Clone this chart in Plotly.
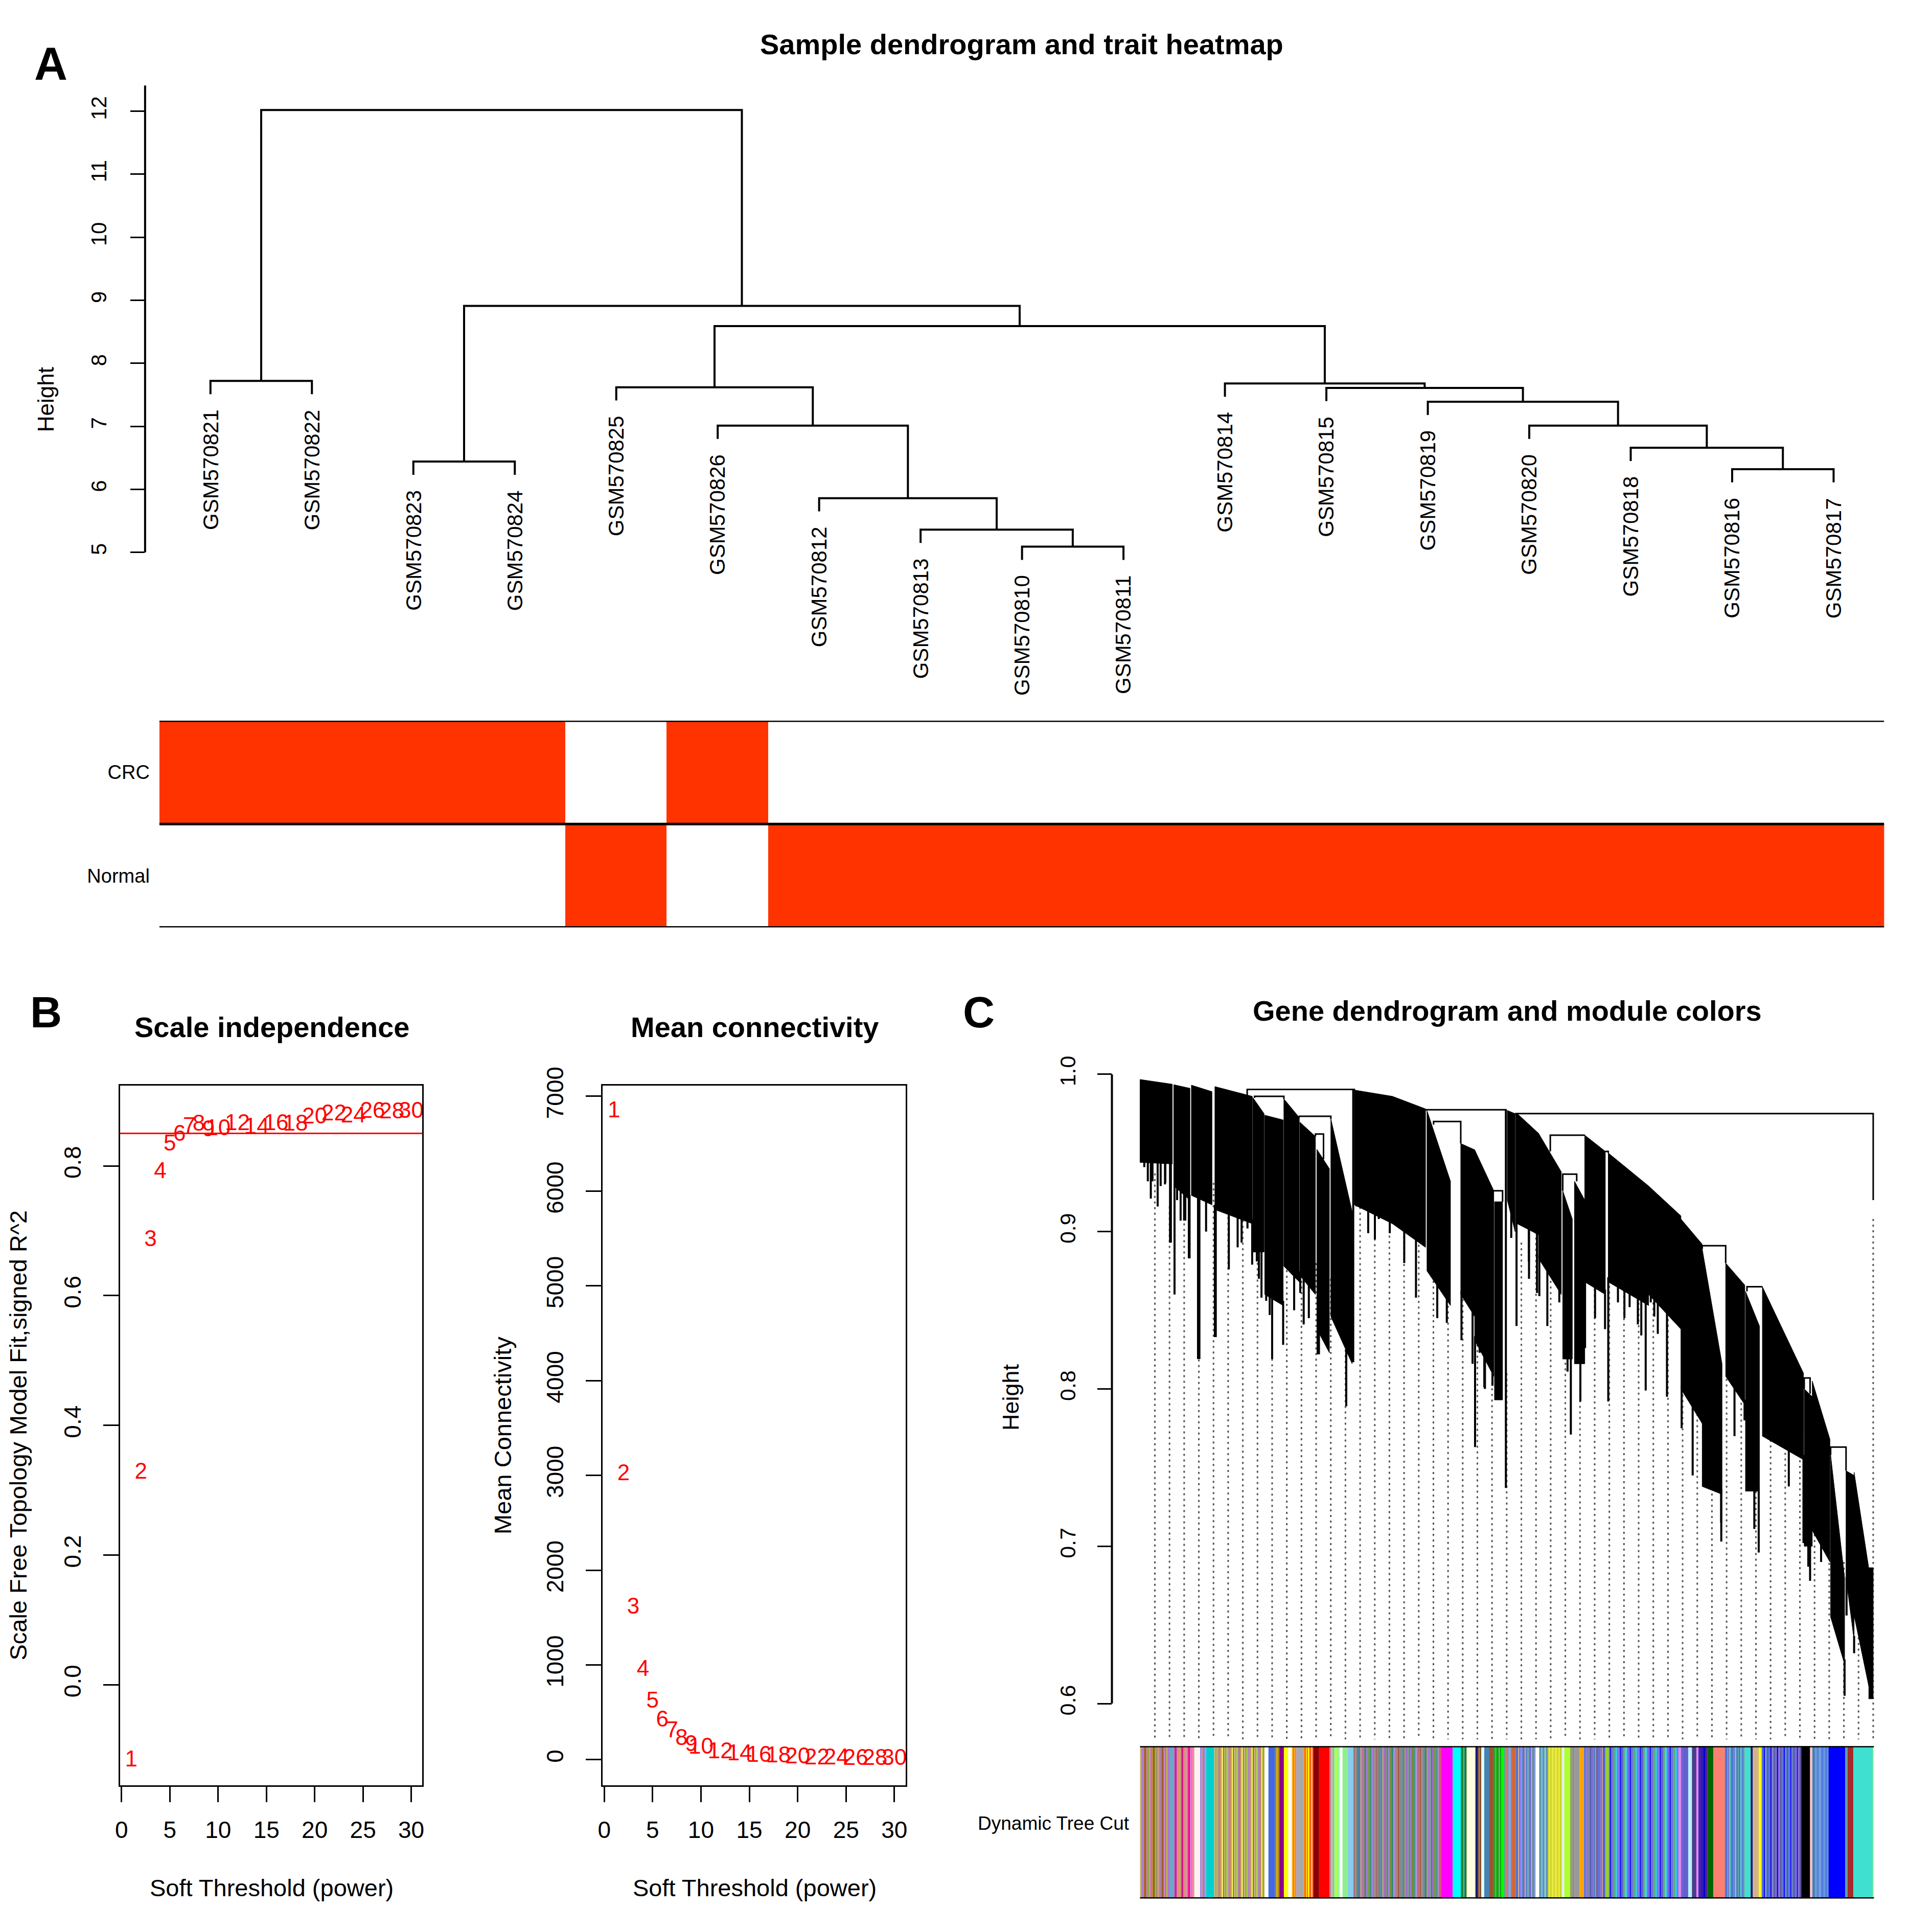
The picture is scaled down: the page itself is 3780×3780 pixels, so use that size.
import plotly.graph_objects as go

W = H = 3780
FONT = "Liberation Sans"

## PANEL A DATA - sample tree and trait rows
sample_order = ["GSM570821", "GSM570822", "GSM570823", "GSM570824", "GSM570825",
                "GSM570826", "GSM570812", "GSM570813", "GSM570810", "GSM570811",
                "GSM570814", "GSM570815", "GSM570819", "GSM570820", "GSM570818",
                "GSM570816", "GSM570817"]
# (left, right, height), "m<i>" = earlier merge i
sample_merges = [
    ("GSM570810", "GSM570811", 5.09),   # m0
    ("GSM570813", "m0", 5.36),          # m1
    ("GSM570812", "m1", 5.86),          # m2
    ("GSM570826", "m2", 7.01),          # m3
    ("GSM570825", "m3", 7.62),          # m4
    ("GSM570816", "GSM570817", 6.32),   # m5
    ("GSM570818", "m5", 6.66),          # m6
    ("GSM570820", "m6", 7.01),          # m7
    ("GSM570819", "m7", 7.39),          # m8
    ("GSM570815", "m8", 7.61),          # m9
    ("GSM570814", "m9", 7.68),          # m10
    ("m4", "m10", 8.59),                # m11
    ("GSM570823", "GSM570824", 6.44),   # m12
    ("m12", "m11", 8.91),               # m13
    ("GSM570821", "GSM570822", 7.72),   # m14
    ("m14", "m13", 12.02),              # m15
]
leaf_hang = 0.21
trait_names = ["Normal", "CRC"]
trait_crc = [1, 1, 1, 1, 0, 1, 0, 0, 0, 0, 0, 0, 0, 0, 0, 0, 0]
trait_normal = [0, 0, 0, 0, 1, 0, 1, 1, 1, 1, 1, 1, 1, 1, 1, 1, 1]

## PANEL B DATA - soft threshold
powers = [1, 2, 3, 4, 5, 6, 7, 8, 9, 10, 12, 14, 16, 18, 20, 22, 24, 26, 28, 30]
sft_r2 = [-0.117, 0.326, 0.685, 0.790, 0.832, 0.847, 0.859, 0.863, 0.854, 0.856,
          0.864, 0.858, 0.864, 0.863, 0.874, 0.879, 0.8755, 0.883, 0.882, 0.883]
mean_k = [6837, 3011, 1599, 945, 606, 411, 295, 215, 150, 125,
          75, 54, 39, 30, 21, 12, 9, 7, 5, 4]
r2_cut = 0.85

## PANEL C DATA - gene tree (x = fraction of leaf order)
gc_left  = [0.000, 0.046, 0.070, 0.102, 0.154, 0.170, 0.196, 0.218, 0.241, 0.260,
            0.292, 0.344, 0.391, 0.437, 0.456, 0.483, 0.5005, 0.514, 0.543, 0.576,
            0.592, 0.606, 0.638, 0.693, 0.737, 0.766, 0.798, 0.825, 0.848, 0.905,
            0.916, 0.941, 0.962, 0.973, 0.993]
gc_right = [0.044, 0.068, 0.098, 0.153, 0.169, 0.195, 0.217, 0.239, 0.258, 0.289,
            0.344, 0.389, 0.423, 0.456, 0.482, 0.494, 0.511, 0.543, 0.574, 0.589,
            0.606, 0.634, 0.693, 0.737, 0.766, 0.793, 0.824, 0.844, 0.904, 0.916,
            0.940, 0.960, 0.973, 0.993, 0.999]
gc_top_l = [0.9967, 0.9934, 0.9931, 0.9922, 0.985, 0.974, 0.9844, 0.9695, 0.9523, 0.9717,
            0.990, 0.986, 0.977, 0.956, 0.952, 0.919, 0.977, 0.975, 0.9625, 0.926,
            0.932, 0.9613, 0.950, 0.929, 0.908, 0.889, 0.880, 0.862, 0.865, 0.800,
            0.805, 0.758, 0.748, 0.747, 0.686]
gc_top_r = [0.9937, 0.9911, 0.989, 0.986, 0.975, 0.971, 0.9725, 0.9605, 0.940, 0.9128,
            0.986, 0.978, 0.932, 0.952, 0.926, 0.919, 0.975, 0.9625, 0.938, 0.908,
            0.920, 0.951, 0.929, 0.910, 0.892, 0.816, 0.866, 0.840, 0.810, 0.795,
            0.768, 0.680, 0.745, 0.686, 0.686]
gc_bot_l = [0.944, 0.929, 0.923, 0.914, 0.887, 0.860, 0.878, 0.872, 0.838, 0.846,
            0.917, 0.905, 0.875, 0.860, 0.831, 0.793, 0.920, 0.905, 0.883, 0.819,
            0.816, 0.868, 0.868, 0.860, 0.800, 0.738, 0.808, 0.735, 0.770, 0.700,
            0.710, 0.655, 0.680, 0.656, 0.603]
gc_bot_r = [0.943, 0.920, 0.917, 0.905, 0.887, 0.853, 0.868, 0.860, 0.823, 0.816,
            0.905, 0.890, 0.853, 0.846, 0.808, 0.793, 0.900, 0.898, 0.860, 0.819,
            0.816, 0.860, 0.853, 0.838, 0.778, 0.733, 0.790, 0.735, 0.755, 0.700,
            0.690, 0.625, 0.640, 0.611, 0.603]

# merge brackets: left x, right x, height, left child height, right child height
gb_left  = [0.146, 0.156, 0.217, 0.239, 0.389, 0.400, 0.480, 0.511, 0.559, 0.576,
            0.634, 0.766, 0.827, 0.905, 0.941, 0.993]
gb_right = [0.292, 0.196, 0.260, 0.250, 0.4985, 0.437, 0.494, 0.999, 0.606, 0.595,
            0.638, 0.798, 0.848, 0.913, 0.962, 0.999]
gb_h     = [0.9904, 0.986, 0.9733, 0.962, 0.9775, 0.970, 0.926, 0.975, 0.9613, 0.9365,
            0.951, 0.891, 0.865, 0.807, 0.763, 0.686]
gb_hl    = [0.987, 0.985, 0.9725, 0.9605, 0.978, 0.968, 0.926, 0.975, 0.951, 0.926,
            0.951, 0.889, 0.862, 0.800, 0.758, 0.686]
gb_hr    = [0.990, 0.9844, 0.9717, 0.946, 0.977, 0.956, 0.919, 0.920, 0.9613, 0.932,
            0.950, 0.880, 0.865, 0.797, 0.748, 0.686]

# single branches hanging below the dense part: position and lowest height
gs_x = [0.0058, 0.0106, 0.0147, 0.0170, 0.024, 0.0281, 0.034, 0.0345, 0.0409, 0.042,
        0.047, 0.0505, 0.0553, 0.060, 0.0617, 0.0665, 0.0675, 0.0729, 0.079, 0.0809,
        0.0857, 0.090, 0.0920, 0.102, 0.1032, 0.121, 0.133, 0.1384, 0.1464, 0.1528,
        0.1591, 0.162, 0.1655, 0.1719, 0.1767, 0.180, 0.195, 0.2023, 0.210, 0.2135,
        0.2183, 0.2230, 0.230, 0.242, 0.2438, 0.2758, 0.281, 0.2905, 0.2949, 0.3109,
        0.320, 0.3253, 0.3403, 0.360, 0.376, 0.405, 0.418, 0.438, 0.4531, 0.4565,
        0.4627, 0.4691, 0.470, 0.4802, 0.4985, 0.5026, 0.5058, 0.513, 0.5298, 0.530,
        0.5409, 0.5441, 0.555, 0.5713, 0.5825, 0.587, 0.600, 0.6064, 0.620, 0.6336,
        0.638, 0.6512, 0.660, 0.6671, 0.6783, 0.683, 0.689, 0.6959, 0.7007, 0.7055,
        0.718, 0.738, 0.753, 0.7918, 0.792, 0.810, 0.8237, 0.837, 0.843, 0.884,
        0.8892, 0.904, 0.9106, 0.913, 0.928, 0.960, 0.9627, 0.973]
gs_low = [0.941, 0.932, 0.921, 0.932, 0.916, 0.929, 0.930, 0.931, 0.893, 0.893,
          0.860, 0.920, 0.907, 0.907, 0.907, 0.883, 0.883, 0.931, 0.819, 0.819,
          0.920, 0.900, 0.925, 0.833, 0.833, 0.876, 0.890, 0.893, 0.902, 0.879,
          0.881, 0.870, 0.858, 0.856, 0.847, 0.819, 0.828, 0.877, 0.850, 0.870,
          0.861, 0.841, 0.845, 0.822, 0.822, 0.832, 0.789, 0.817, 0.916, 0.899,
          0.895, 0.908, 0.899, 0.880, 0.858, 0.845, 0.842, 0.831, 0.816, 0.763,
          0.823, 0.801, 0.800, 0.802, 0.737, 0.922, 0.896, 0.840, 0.881, 0.870,
          0.861, 0.859, 0.840, 0.855, 0.811, 0.771, 0.792, 0.826, 0.845, 0.838,
          0.792, 0.855, 0.845, 0.852, 0.841, 0.834, 0.799, 0.855, 0.846, 0.835,
          0.795, 0.775, 0.745, 0.715, 0.703, 0.770, 0.780, 0.711, 0.696, 0.738,
          0.762, 0.702, 0.687, 0.678, 0.690, 0.605, 0.656, 0.632]

# dotted guide lines (50 of them), top height of each
guide_top = [0.937, 0.916, 0.941, 0.951, 0.931, 0.920, 0.943, 0.941, 0.930, 0.947,
             0.908, 0.880, 0.870, 0.850, 0.955, 0.917, 0.901, 0.908, 0.931, 0.908,
             0.860, 0.907, 0.864, 0.804, 0.810, 0.893, 0.932, 0.908, 0.881, 0.800,
             0.935, 0.912, 0.920, 0.912, 0.905, 0.898, 0.800, 0.877, 0.780, 0.860,
             0.852, 0.760, 0.832, 0.813, 0.794, 0.754, 0.718, 0.690, 0.710, 0.908]
guide_first, guide_last, guide_floor = 0.0202, 0.999, 0.577

# module colour bands along the leaf order (list = fine mix of genes)
band_from = [0.000, 0.040, 0.047, 0.074, 0.082, 0.090, 0.101, 0.170, 0.175, 0.184,
             0.190, 0.196, 0.202, 0.207, 0.213, 0.223, 0.236, 0.244, 0.258, 0.264,
             0.272, 0.276, 0.283, 0.291, 0.410, 0.426, 0.437, 0.445, 0.457, 0.460,
             0.465, 0.469, 0.476, 0.481, 0.492, 0.497, 0.501, 0.506, 0.512, 0.539,
             0.544, 0.556, 0.575, 0.578, 0.587, 0.591, 0.599, 0.605, 0.634, 0.639,
             0.734, 0.737, 0.747, 0.752, 0.758, 0.761, 0.773, 0.781, 0.797, 0.824,
             0.832, 0.835, 0.843, 0.847, 0.901, 0.913, 0.916, 0.938, 0.961, 0.964,
             0.972, 0.999]
band_to = band_from[1:] + [1.000]
band_colors = [
    ["#B5A642", "#D87093", "#9370DB", "#CD853F", "#A0522D", "#808000", "#DA70D6", "#6B8E23"],
    "#6CA6CD",
    ["#FF1493", "#C71585", "#DA70D6", "#CD853F", "#FF69B4", "#B0A060"],
    "#FFF0F5",
    ["#9370DB", "#A0A0A0", "#D87093"],
    "#00CED1",
    ["#BDB76B", "#D87093", "#9ACD32", "#DAA520", "#9370DB", "#CD853F", "#BC8F8F", "#FFFF66", "#808000"],
    "#FFFFFF",
    "#4169E1",
    ["#808000", "#DAA520", "#FF8C00"],
    "#8B008B",
    "#FFFF00",
    "#FFFFF0",
    ["#FFA500", "#D87093"],
    "#A9A9A9",
    ["#FF8C00", "#FF4500", "#FFD700", "#FF6347", "#FFFF00"],
    "#8B0000",
    "#FF0000",
    ["#D87093", "#A0A0A0", "#90EE90"],
    ["#90EE90", "#98FB98", "#ADFF2F"],
    "#F0FFF0",
    "#90EE90",
    "#87CEEB",
    ["#A0522D", "#9370DB", "#808080", "#6B8E23", "#4682B4", "#2E8B57", "#BC8F8F", "#8470FF", "#CD5C5C", "#5F9EA0"],
    "#FF00FF",
    "#00FFFF",
    ["#2E8B57", "#006400", "#20B2AA"],
    "#FFFFE0",
    "#191970",
    ["#8B4513", "#4682B4"],
    "#E0FFFF",
    "#4682B4",
    "#A0522D",
    ["#00A000", "#228B22", "#32CD32"],
    "#00FF00",
    ["#9370DB", "#FF8C00"],
    ["#6495ED", "#FF8C00"],
    "#CD6839",
    ["#4169E1", "#6A5ACD", "#D2B48C", "#4682B4", "#8470FF", "#5F9EA0"],
    "#FFFFFF",
    ["#4682B4", "#5F9EA0", "#87CEEB"],
    ["#DDDD22", "#F0F030", "#C8D020"],
    "#E0F0FF",
    "#ADFF2F",
    ["#8B8378", "#A9A9A9"],
    "#999999",
    "#FFA500",
    ["#4169E1", "#6A5ACD", "#9370DB", "#4682B4", "#BC8F8F", "#483D8B"],
    "#9ACD32",
    ["#4169E1", "#0000FF", "#4682B4", "#6A5ACD", "#5F9EA0", "#3CB371", "#40E0D0", "#1E90FF", "#7B68EE"],
    "#EE82EE",
    ["#4169E1", "#6A5ACD"],
    "#BFEFFF",
    "#483D8B",
    "#EE82EE",
    ["#1010C0", "#4B0082", "#0000CD"],
    "#006400",
    "#FA8072",
    ["#4682B4", "#4169E1", "#5F9EA0", "#6A5ACD", "#40E0D0"],
    "#40E0D0",
    "#191970",
    "#D2B48C",
    "#FFFF00",
    ["#4169E1", "#6A5ACD", "#0000FF", "#9370DB", "#4682B4", "#483D8B"],
    "#000000",
    "#FFC0CB",
    ["#4682B4", "#4169E1", "#5F9EA0", "#6495ED"],
    "#0000FF",
    "#5F9EA0",
    "#A52A2A",
    "#40E0D0",
    "#FFFF00",
]


# page pixel -> paper coords (small affine nudge found by comparing with the target)
def px_x(p):
    return (p - 16 + 0.003 * p) / W


def px_y(p):
    return 1 - (p - 46 + 0.011 * p) / H


## BUILD SAMPLE DENDROGRAM SEGMENTS
pos = {n: i + 1 for i, n in enumerate(sample_order)}
hgt = {}
leaf_end = {}
tree_x, tree_y = [], []
for i, (a, b, h) in enumerate(sample_merges):
    for c in (a, b):
        if c not in hgt:
            leaf_end[c] = h - leaf_hang
    ya = hgt.get(a, h - leaf_hang)
    yb = hgt.get(b, h - leaf_hang)
    tree_x += [pos[a], pos[a], pos[b], pos[b], None]
    tree_y += [ya, h, h, yb, None]
    pos["m%d" % i] = (pos[a] + pos[b]) / 2
    hgt["m%d" % i] = h

## BUILD GENE TREE PIECES
poly_x, poly_y = [], []
for i in range(len(gc_left)):
    poly_x += [gc_left[i], gc_right[i], gc_right[i], gc_left[i], gc_left[i], None]
    poly_y += [gc_top_l[i], gc_top_r[i], gc_bot_r[i], gc_bot_l[i], gc_top_l[i], None]

br_x, br_y = [], []
for i in range(len(gb_left)):
    br_x += [gb_left[i], gb_left[i], gb_right[i], gb_right[i], None]
    br_y += [gb_hl[i], gb_h[i], gb_h[i], gb_hr[i], None]


def branch_start(x):
    # a hanging branch starts at the bottom of the block it sits in,
    # or at the nearest bracket above it when it sits between blocks
    for i in range(len(gc_left)):
        if gc_left[i] <= x <= gc_right[i]:
            t = (x - gc_left[i]) / (gc_right[i] - gc_left[i])
            return gc_bot_l[i] + t * (gc_bot_r[i] - gc_bot_l[i]) + 0.003
    tops = [gb_h[i] for i in range(len(gb_left)) if gb_left[i] <= x <= gb_right[i]]
    return min(tops) if tops else None


sp_x, sp_y = [], []
for x, low in zip(gs_x, gs_low):
    top = branch_start(x)
    if top is not None and low < top:
        sp_x += [x, x, None]
        sp_y += [top, low, None]

n_guides = len(guide_top)
step = (guide_last - guide_first) / (n_guides - 1)
gd_x, gd_y = [], []
for k in range(n_guides):
    gx = guide_first + k * step
    gd_x += [gx, gx, None]
    gd_y += [guide_top[k], guide_floor, None]

## BUILD COLOUR STRIPES
st_x, st_w, st_c = [], [], []
for a, b, c in zip(band_from, band_to, band_colors):
    if isinstance(c, str):
        st_x.append((a + b) / 2)
        st_w.append(b - a)
        st_c.append(c)
    else:
        n = max(1, round((b - a) / 0.0015))
        w = (b - a) / n
        for j in range(n):
            st_x.append(a + w * (j + 0.5))
            st_w.append(w)
            st_c.append(c[j % len(c)])

## FIGURE
fig = go.Figure()
black = dict(color="black", width=4)

fig.add_trace(go.Scatter(x=tree_x, y=tree_y, mode="lines", line=black,
                         xaxis="x", yaxis="y", hoverinfo="skip"))
fig.add_trace(go.Heatmap(z=[trait_normal, trait_crc], x=list(range(1, 18)), y=[0, 1],
                         colorscale=[[0, "white"], [1, "#FF3300"]], zmin=0, zmax=1,
                         showscale=False, xaxis="x2", yaxis="y2", hoverinfo="skip"))
fig.add_trace(go.Scatter(x=powers, y=sft_r2, mode="text", text=[str(p) for p in powers],
                         textfont=dict(color="red", size=44, family=FONT),
                         xaxis="x3", yaxis="y3", cliponaxis=False, hoverinfo="skip"))
fig.add_trace(go.Scatter(x=powers, y=mean_k, mode="text", text=[str(p) for p in powers],
                         textfont=dict(color="red", size=44, family=FONT),
                         xaxis="x4", yaxis="y4", cliponaxis=False, hoverinfo="skip"))
fig.add_trace(go.Scatter(x=gd_x, y=gd_y, mode="lines",
                         line=dict(color="#555555", width=3, dash="4px,7px"),
                         xaxis="x5", yaxis="y5", hoverinfo="skip"))
fig.add_trace(go.Scatter(x=poly_x, y=poly_y, mode="lines", fill="toself", fillcolor="black",
                         line=dict(color="black", width=1), xaxis="x5", yaxis="y5",
                         hoverinfo="skip"))
fig.add_trace(go.Scatter(x=br_x, y=br_y, mode="lines", line=dict(color="black", width=3),
                         xaxis="x5", yaxis="y5", hoverinfo="skip"))
fig.add_trace(go.Scatter(x=sp_x, y=sp_y, mode="lines", line=dict(color="black", width=4),
                         xaxis="x5", yaxis="y5", hoverinfo="skip"))
fig.add_trace(go.Bar(x=st_x, y=[1] * len(st_x), width=st_w,
                     marker=dict(color=st_c, line=dict(width=0)),
                     xaxis="x6", yaxis="y6", hoverinfo="skip"))

tick_common = dict(ticks="outside", tickwidth=3, tickcolor="black", showgrid=False,
                   zeroline=False)
box = dict(showline=True, linewidth=3, linecolor="black", mirror=True)

fig.update_layout(
    width=W, height=H, margin=dict(l=0, r=0, t=0, b=0),
    paper_bgcolor="white", plot_bgcolor="white", showlegend=False,
    font=dict(family=FONT, color="black"),
    # A: sample dendrogram
    xaxis=dict(domain=[px_x(282), px_x(3687)], range=[0.3555, 17.4985], visible=False,
               anchor="y"),
    yaxis=dict(domain=[px_y(1180), px_y(150)], range=[4.188, 12.552], anchor="x",
               tickvals=list(range(5, 13)), ticklen=28, tickangle=-90,
               tickfont=dict(size=42), ticklabelstandoff=30, showline=False, **tick_common),
    # A: trait rows
    xaxis2=dict(domain=[px_x(310), px_x(3687)], range=[0.5, 17.5], visible=False,
                anchor="y2"),
    yaxis2=dict(domain=[px_y(1813), px_y(1409)], range=[-0.5, 1.5], anchor="x2",
                tickvals=[0, 1], ticktext=trait_names, ticks="", showgrid=False,
                zeroline=False, showline=False, tickfont=dict(size=38),
                ticklabelstandoff=18),
    # B: scale independence
    xaxis3=dict(domain=[px_x(233), px_x(825)], range=[-0.16, 31.16], anchor="y3",
                tickvals=[0, 5, 10, 15, 20, 25, 30], ticklen=30, tickfont=dict(size=46),
                ticklabelstandoff=14, **tick_common, **box),
    yaxis3=dict(domain=[px_y(3490), px_y(2122)], range=[-0.1554, 0.9239], anchor="x3",
                tickvals=[0, 0.2, 0.4, 0.6, 0.8], ticktext=["0.0", "0.2", "0.4", "0.6", "0.8"],
                ticklen=30, tickangle=-90, tickfont=dict(size=46), ticklabelstandoff=26,
                **tick_common, **box),
    # B: mean connectivity
    xaxis4=dict(domain=[px_x(1178), px_x(1771)], range=[-0.16, 31.16], anchor="y4",
                tickvals=[0, 5, 10, 15, 20, 25, 30], ticklen=30, tickfont=dict(size=46),
                ticklabelstandoff=14, **tick_common, **box),
    yaxis4=dict(domain=[px_y(3490), px_y(2122)], range=[-272, 7114], anchor="x4",
                tickvals=[0, 1000, 2000, 3000, 4000, 5000, 6000, 7000],
                ticklen=30, tickangle=-90, tickfont=dict(size=46), ticklabelstandoff=26,
                **tick_common, **box),
    # C: gene dendrogram
    xaxis5=dict(domain=[px_x(2175), px_x(3700)], range=[-0.0383, 1.023], visible=False,
                anchor="y5"),
    yaxis5=dict(domain=[px_y(3400), px_y(2050)], range=[0.5772, 1.0163], anchor="x5",
                tickvals=[0.6, 0.7, 0.8, 0.9, 1.0], ticktext=["0.6", "0.7", "0.8", "0.9", "1.0"],
                ticklen=28, tickangle=-90, tickfont=dict(size=43), ticklabelstandoff=25,
                showline=False, **tick_common),
    # C: module colours
    xaxis6=dict(domain=[px_x(2230), px_x(3667)], range=[0, 1], visible=False, anchor="y6"),
    yaxis6=dict(domain=[px_y(3711), px_y(3413)], range=[0, 1], visible=False, anchor="x6"),
)

## SHAPES (axis lines R style, row borders, cut line)
shapes = [
    dict(type="line", xref="x domain", yref="y", x0=0, x1=0, y0=5, y1=12.41, line=black),
    dict(type="line", xref="x3 domain", yref="y3", x0=0, x1=1, y0=r2_cut, y1=r2_cut,
         line=dict(color="red", width=3)),
    dict(type="line", xref="x5 domain", yref="y5", x0=0, x1=0, y0=0.6, y1=1.0, line=black),
    dict(type="line", xref="x6 domain", yref="y6", x0=0, x1=1, y0=1, y1=1,
         line=dict(color="black", width=5)),
    dict(type="line", xref="x6 domain", yref="y6", x0=0, x1=1, y0=0, y1=0,
         line=dict(color="black", width=5)),
]
for yv in (1.5, 0.5, -0.5):
    shapes.append(dict(type="line", xref="x2", yref="y2", x0=0.5, x1=17.5, y0=yv, y1=yv,
                       line=dict(color="black", width=5)))
fig.update_layout(shapes=shapes)

## TEXT
ann = []


def txt(s, x, y, size, bold=False, angle=0, xanchor="center"):
    ann.append(dict(text="<b>%s</b>" % s if bold else s, x=px_x(x), y=px_y(y),
                    xref="paper", yref="paper", showarrow=False, textangle=angle,
                    xanchor=xanchor, yanchor="middle", font=dict(size=size, family=FONT)))


txt("A", 98, 125, 90, bold=True)
txt("B", 88, 1978, 86, bold=True)
txt("C", 1914, 1978, 86, bold=True)
txt("Sample dendrogram and trait heatmap", 1998, 87, 56, bold=True)
txt("Height", 87, 781, 44, angle=-90)
txt("Scale independence", 530, 2008, 56, bold=True)
txt("Mean connectivity", 1475, 2008, 56, bold=True)
txt("Soft Threshold (power)", 530, 3690, 47)
txt("Soft Threshold (power)", 1475, 3690, 47)
txt("Scale Free Topology Model Fit,signed R^2", 34, 2806, 47, angle=-90)
txt("Mean Connectivity", 982, 2806, 47, angle=-90)
txt("Gene dendrogram and module colors", 2949, 1976, 56, bold=True)
txt("Height", 1977, 2731, 45, angle=-90)
txt("Dynamic Tree Cut", 2212, 3564, 37, xanchor="right")

for name in sample_order:
    ann.append(dict(text=name, x=pos[name], y=leaf_end[name], xref="x", yref="y",
                    showarrow=False, textangle=-90, xanchor="center", yanchor="top",
                    yshift=-28, font=dict(size=42, family=FONT)))

fig.update_layout(annotations=ann)

fig.write_html("out.html")
